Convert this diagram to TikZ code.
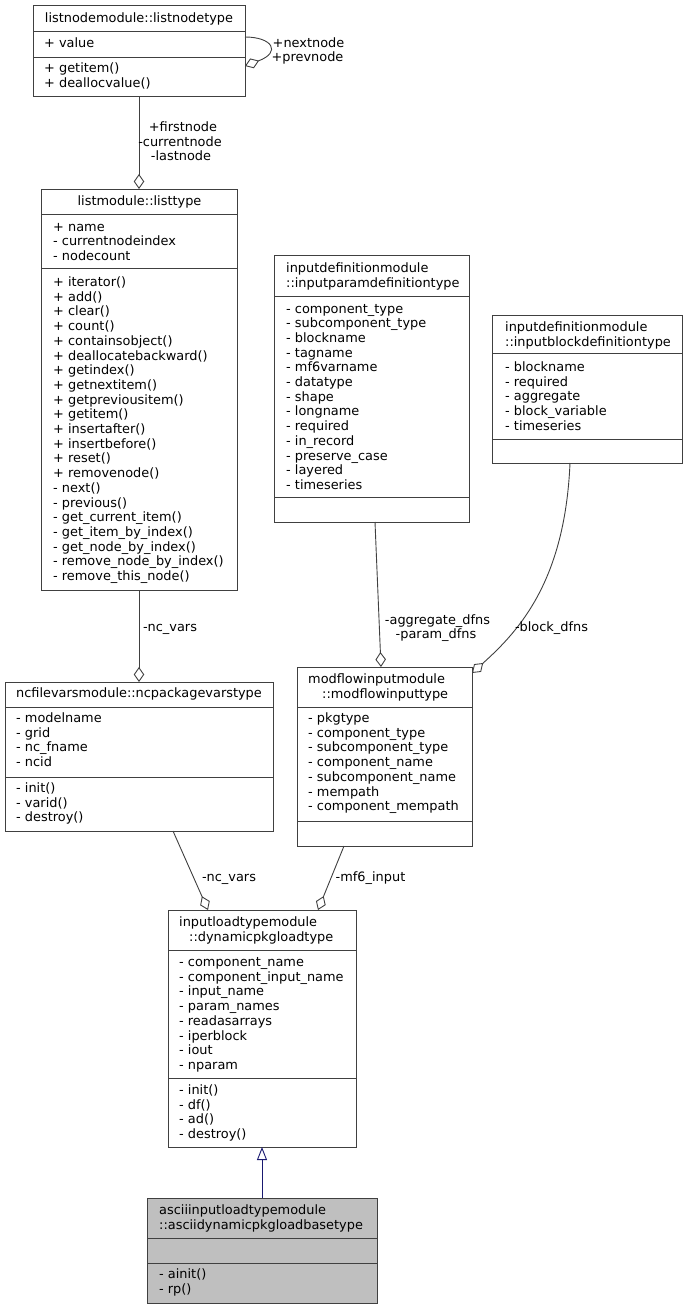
\documentclass[tikz,border=0pt]{standalone}
\usepackage{fontspec}
\setmainfont{DejaVu Sans}
\usetikzlibrary{arrows.meta}
\definecolor{edgegray}{HTML}{404040}
\definecolor{boxgray}{HTML}{404040}
\definecolor{hlfill}{HTML}{BFBFBF}
\definecolor{inhblue}{HTML}{191970}
\tikzset{
  classbox/.style={draw=boxgray, line width=1pt, fill=white, inner sep=0pt, outer sep=0pt},
  sepline/.style={draw=boxgray, line width=1pt},
  txt/.style={font=\fontsize{12.9}{14.7}\selectfont, inner sep=0pt, text=black},
  agg/.style={draw=edgegray, line width=0.9pt, -{Diamond[open, length=15pt, width=10.5pt]}},
  inh/.style={draw=inhblue, line width=0.9pt, -{Triangle[open, length=13pt, width=10pt]}},
}
\newcommand\clslines[4]{\foreach \lineitem [count=\idx from 0] in {#4}{\node[txt, anchor=base west] (#1-\idx) at (#2,{#3+\idx*14.7+4.5}) {\lineitem};}}
\begin{document}
\begin{tikzpicture}[x=1pt,y=-1pt]
\useasboundingbox (0,0) rectangle (687,1309);

% ---- listnodetype
\node[classbox, minimum width=212pt, minimum height=91pt] (lnt) at (139,50.5) {};
\draw[sepline] (33,31.5) -- (245,31.5);
\draw[sepline] (33,57) -- (245,57);
\node[txt, anchor=base] (lnt-title) at (139,22) {listnodemodule::listnodetype};
\clslines{lnta}{44}{42.7}{+ value}
\clslines{lntm}{44}{68}{+ getitem(), + deallocvalue()}

% ---- listtype
\node[classbox, minimum width=196pt, minimum height=401pt] (lt) at (139,389.5) {};
\draw[sepline] (41,214) -- (237,214);
\draw[sepline] (41,268) -- (237,268);
\node[txt, anchor=base] (lt-title) at (139.5,205.5) {listmodule::listtype};
\clslines{lta}{53}{226.5}{+ name, - currentnodeindex, - nodecount}
\clslines{ltm}{53}{282}{+ iterator(), + add(), + clear(), + count(), + containsobject(), + deallocatebackward(), + getindex(), + getnextitem(), + getpreviousitem(), + getitem(), + insertafter(), + insertbefore(), + reset(), + removenode(), - next(), - previous(), - get\_current\_item(), - get\_item\_by\_index(), - get\_node\_by\_index(), - remove\_node\_by\_index(), - remove\_this\_node()}

% ---- inputparamdefinitiontype
\node[classbox, minimum width=195pt, minimum height=267pt] (ipd) at (371.5,388.5) {};
\draw[sepline] (274,296) -- (469,296);
\draw[sepline] (274,497) -- (469,497);
\clslines{ipdt}{286}{268}{inputdefinitionmodule, ::inputparamdefinitiontype}
\clslines{ipda}{286}{308.5}{- component\_type, - subcomponent\_type, - blockname, - tagname, - mf6varname, - datatype, - shape, - longname, - required, - in\_record, - preserve\_case, - layered, - timeseries}

% ---- inputblockdefinitiontype
\node[classbox, minimum width=190pt, minimum height=148pt] (ibd) at (587,389) {};
\draw[sepline] (492,353) -- (682,353);
\draw[sepline] (492,439) -- (682,439);
\clslines{ibdt}{505}{327}{inputdefinitionmodule, ::inputblockdefinitiontype}
\clslines{ibda}{505}{367}{- blockname, - required, - aggregate, - block\_variable, - timeseries}

% ---- ncpackagevarstype
\node[classbox, minimum width=268pt, minimum height=149pt] (ncp) at (139,756.5) {};
\draw[sepline] (5,707) -- (273,707);
\draw[sepline] (5,777) -- (273,777);
\node[txt, anchor=base] (ncp-title) at (139,697.5) {ncfilevarsmodule::ncpackagevarstype};
\clslines{ncpa}{16}{718}{- modelname, - grid, - nc\_fname, - ncid}
\clslines{ncpm}{16}{788}{- init(), - varid(), - destroy()}

% ---- modflowinputtype
\node[classbox, minimum width=175pt, minimum height=179pt] (mfi) at (384.5,756.5) {};
\draw[sepline] (297,707) -- (472,707);
\draw[sepline] (297,821) -- (472,821);
\node[txt, anchor=base west] (mfi-t1) at (308,683.5) {modflowinputmodule};
\node[txt, anchor=base west] (mfi-t2) at (322,698) {::modflowinputtype};
\clslines{mfia}{308}{718}{- pkgtype, - component\_type, - subcomponent\_type, - component\_name, - subcomponent\_name, - mempath, - component\_mempath}

% ---- dynamicpkgloadtype
\node[classbox, minimum width=188pt, minimum height=237pt] (dyn) at (262,1028.5) {};
\draw[sepline] (168,950) -- (356,950);
\draw[sepline] (168,1078) -- (356,1078);
\node[txt, anchor=base west] (dyn-t1) at (179,926.5) {inputloadtypemodule};
\node[txt, anchor=base west] (dyn-t2) at (189,941.5) {::dynamicpkgloadtype};
\clslines{dyna}{179}{962}{- component\_name, - component\_input\_name, - input\_name, - param\_names, - readasarrays, - iperblock, - iout, - nparam}
\clslines{dynm}{179}{1090}{- init(), - df(), - ad(), - destroy()}

% ---- asciidynamicpkgloadbasetype
\node[classbox, fill=hlfill, minimum width=230pt, minimum height=105pt] (asc) at (262,1250.5) {};
\draw[sepline] (147,1238) -- (377,1238);
\draw[sepline] (147,1263) -- (377,1263);
\clslines{asct}{159}{1210}{asciiinputloadtypemodule, ::asciidynamicpkgloadbasetype}
\clslines{ascm}{159}{1274}{- ainit(), - rp()}

% ---- connectors
\coordinate (lnt-r1) at (245,37);
\coordinate (lnt-r2) at (245,66);
\draw[agg] (lnt-r1) .. controls (272,37) and (282,52) .. (lnt-r2);
\node[txt, anchor=base] (lbl-next) at (308.5,47.5) {+nextnode};
\node[txt, anchor=base] (lbl-prev) at (307.5,61.5) {+prevnode};

\draw[agg] (lnt.south) -- (lt.north);
\node[txt, anchor=base] (lbl-first) at (183,131.5) {+firstnode};
\node[txt, anchor=base] (lbl-cur) at (180,146.5) {-currentnode};
\node[txt, anchor=base] (lbl-last) at (181,160.5) {-lastnode};

\draw[agg] (lt.south) -- (ncp.north);
\node[txt, anchor=base] (lbl-ncv1) at (170,631.5) {-nc\_vars};

\coordinate (ipd-b) at (375,522);
\coordinate (mfi-t) at (381,667);
\draw[agg] (ipd-b) -- (mfi-t);
\node[txt, anchor=base] (lbl-agg) at (437.5,624.5) {-aggregate\_dfns};
\node[txt, anchor=base] (lbl-par) at (436,638.5) {-param\_dfns};

\coordinate (ibd-b) at (570,463);
\coordinate (mfi-r) at (472,673);
\draw[agg] (ibd-b) .. controls (565,580) and (520,630) .. (mfi-r);
\node[txt, anchor=base] (lbl-blk) at (551.5,631.5) {-block\_dfns};

\coordinate (ncp-b) at (173,831);
\coordinate (dyn-tl) at (208,910);
\draw[agg] (ncp-b) -- (dyn-tl);
\node[txt, anchor=base] (lbl-ncv2) at (229,881.5) {-nc\_vars};

\coordinate (mfi-b) at (344,846);
\coordinate (dyn-tr) at (318,910);
\draw[agg] (mfi-b) -- (dyn-tr);
\node[txt, anchor=base] (lbl-mf6) at (370.5,881.5) {-mf6\_input};

\draw[inh] (asc.north) -- (dyn.south);
\end{tikzpicture}
\end{document}
